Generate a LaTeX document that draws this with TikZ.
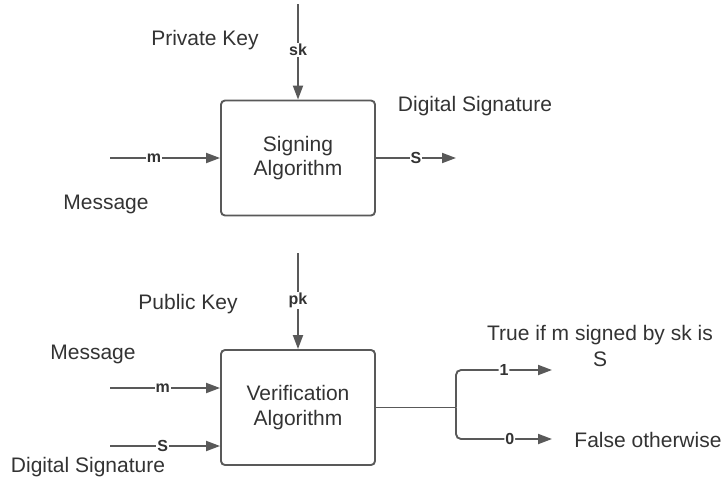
\documentclass[tikz,border=0pt]{standalone}
\usepackage{fontspec}
\setmainfont{Liberation Sans}
\usetikzlibrary{arrows.meta}
\definecolor{ln}{HTML}{595959}
\definecolor{tx}{HTML}{333333}
\begin{document}
\begin{tikzpicture}[x=1pt,y=-1pt,
  algbox/.style={draw=ln,line width=1.9pt,rounded corners=4pt,minimum width=154pt,minimum height=115pt,inner sep=0pt,align=center,font=\fontsize{21}{24.5}\selectfont,text=tx},
  lbl/.style={font=\fontsize{21}{26}\selectfont,text=tx,inner sep=0pt,align=center},
  tag/.style={font=\bfseries\fontsize{16}{18}\selectfont,text=tx,fill=white,inner sep=1pt},
  conn/.style={draw=ln,line width=1.9pt,-{Triangle[length=14pt,width=10pt]}},
  plain/.style={draw=ln,line width=1.9pt}]
\useasboundingbox (0,0) rectangle (722,480);
% signing
\node[algbox] (sign) at (298,158) {Signing\\Algorithm};
\coordinate (skin) at (298,4);
\coordinate (min) at (110,158);
\coordinate (sout) at (456,158);
\draw[conn] (skin) -- node[tag,pos=0.48]{sk} (sign.north);
\draw[conn] (min) -- node[tag,pos=0.4]{m} (sign.west);
\draw[conn] (sign.east) -- node[tag,pos=0.5]{S} (sout);
\node[lbl] (pkey) at (205,40) {Private Key};
\node[lbl] (dsig1) at (475,106) {Digital Signature};
\node[lbl] (msg1) at (106,204) {Message};
% verification
\node[algbox] (ver) at (298,407.5) {Verification\\Algorithm};
\coordinate (pkin) at (298,253);
\coordinate (m2in) at (110,388);
\coordinate (s2in) at (110,446);
\coordinate (split) at (456,407.5);
\coordinate (out1) at (552,370);
\coordinate (out0) at (552,439);
\draw[conn] (pkin) -- node[tag,pos=0.49]{pk} (pkin |- ver.north);
\draw[conn] (m2in) -- node[tag,pos=0.48]{m} (m2in -| ver.west);
\draw[conn] (s2in) -- node[tag,pos=0.48]{S} (s2in -| ver.west);
\draw[plain] (ver.east) -- (split);
\draw[conn,rounded corners=5pt] (split) |- node[tag,pos=0.75]{1} (out1);
\draw[conn,rounded corners=5pt] (split) |- node[tag,pos=0.78]{0} (out0);
\node[lbl] (pubkey) at (188,304) {Public Key};
\node[lbl] (msg2) at (93,354) {Message};
\node[lbl] (dsig2) at (88,467) {Digital Signature};
\node[lbl] (truel) at (600,346) {True if m signed by sk is\\S};
\node[lbl] (falsel) at (648,440) {False otherwise};
\end{tikzpicture}
\end{document}
